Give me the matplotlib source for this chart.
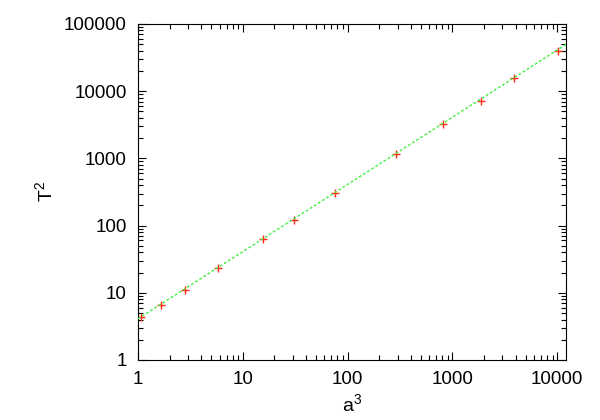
import matplotlib
matplotlib.use("Agg")
import matplotlib.pyplot as plt
import numpy as np
from matplotlib.ticker import LogLocator, FixedLocator, NullFormatter

plt.rcParams['font.family'] = ['Liberation Sans', 'DejaVu Sans']

# data
a_cubed = [1.07, 1.66, 2.83, 5.80, 15.6, 30.8, 76.3, 292, 808, 1888, 3898, 10100]
t_squared = [4.32, 6.58, 11.1, 23.4, 63.2, 122, 309, 1162, 3250, 7220, 15560, 40060]
fit_coef = 4.1
fit_exp = 1.0
x_ticks = [1, 10, 100, 1000, 10000]
y_ticks = [1, 10, 100, 1000, 10000, 100000]
x_range = (1, 12100)
y_range = (1, 100000)

fig = plt.figure(figsize=(6, 4.2), dpi=100)
ax = fig.add_axes([0.23, 0.1429, 0.7133, 0.80])
ax.set_xscale('log')
ax.set_yscale('log')
ax.set_xlim(*x_range)
ax.set_ylim(*y_range)

ax.plot(a_cubed, t_squared, linestyle='none', marker='+', color='#ff2a1a',
        markersize=6, markeredgewidth=1.0, zorder=2)
xf = np.logspace(np.log10(x_range[0]), np.log10(x_range[1]), 200)
ax.plot(xf, fit_coef * xf ** fit_exp, color='#44ee44', linestyle=(0, (2, 1.5)),
        linewidth=1.0, zorder=3)

ax.xaxis.set_major_locator(FixedLocator(x_ticks))
ax.yaxis.set_major_locator(FixedLocator(y_ticks))
ax.set_xticklabels([str(v) for v in x_ticks])
ax.set_yticklabels([str(v) for v in y_ticks])
ax.xaxis.set_minor_locator(LogLocator(base=10, subs=np.arange(2, 10)))
ax.yaxis.set_minor_locator(LogLocator(base=10, subs=np.arange(2, 10)))
ax.xaxis.set_minor_formatter(NullFormatter())
ax.yaxis.set_minor_formatter(NullFormatter())
ax.tick_params(which='both', direction='in', top=True, right=True, labelsize=13.5, width=0.8)
ax.tick_params(which='major', length=6)
ax.tick_params(which='minor', length=3.5)
ax.tick_params(axis='x', which='major', pad=8)
ax.tick_params(axis='y', which='major', pad=8)
for s in ax.spines.values():
    s.set_linewidth(0.8)

ax.set_xlabel(r'a$^{\mathregular{3}}$', fontsize=14, labelpad=4)
ax.set_ylabel(r'T$^{\mathregular{2}}$', fontsize=14, labelpad=5)

fig.savefig('out.png', dpi=100)
